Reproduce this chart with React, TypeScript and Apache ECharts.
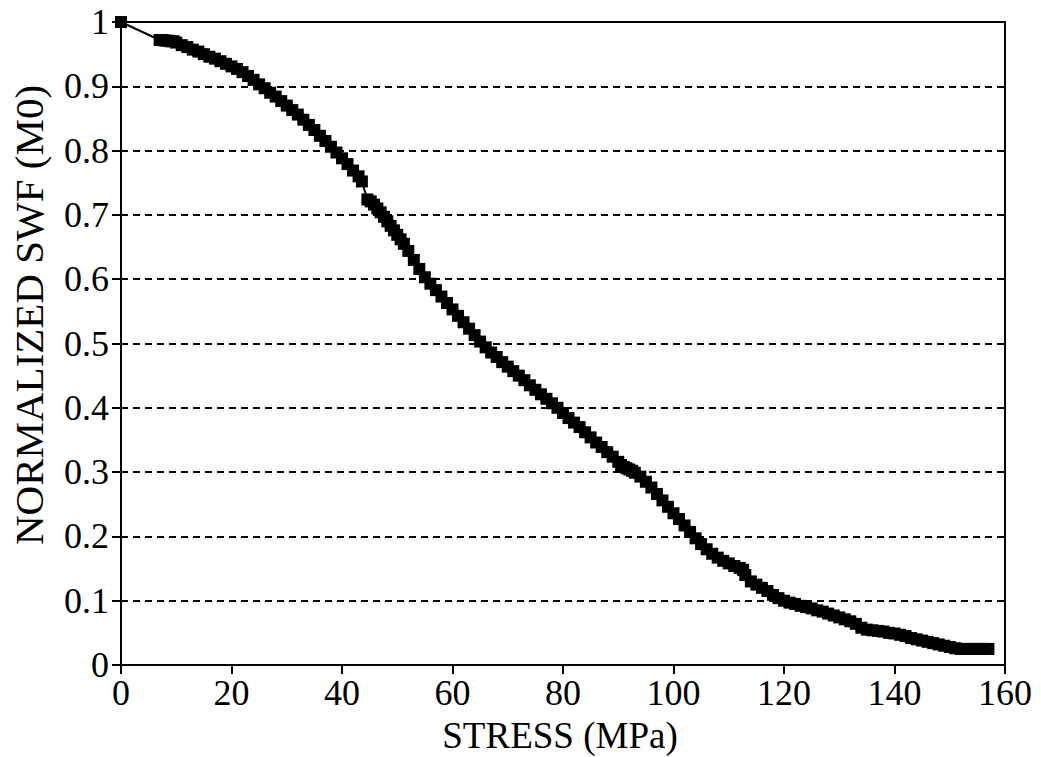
import React, { useEffect, useRef } from "react";
import * as echarts from "echarts";

const stress = [
  0, 7, 7.5, 8, 8.5, 9, 9.5, 10, 11, 12, 13, 14, 15, 16, 17, 18, 19, 20, 21, 22, 23, 24, 25,
  26, 27, 28, 29, 30, 31, 32, 33, 34, 35, 36, 37, 38, 39, 40, 41, 42, 43, 43.6,
  44.6, 45.2, 45.8, 46.4, 47, 47.6, 48.2, 48.8, 49.4, 50, 50.6, 51.2, 52, 53, 54, 55, 56, 57,
  58, 59, 60, 61, 62, 63, 64, 65, 66, 67, 68, 69, 70, 71, 72, 73, 74, 75, 76, 77, 78, 79,
  80, 81, 82, 83, 84, 85, 86, 87, 88, 89, 90, 90.5, 91, 91.5, 92, 92.5, 93, 94, 95, 96, 97,
  98, 99, 100, 101, 102, 103, 104, 105, 106, 107, 108, 109, 110, 111, 112, 112.6, 113, 114,
  115, 116, 117, 118, 119, 120, 121, 122, 123, 124, 125, 126, 127, 128, 129, 130, 131, 132,
  133, 134, 135, 136, 137, 138, 139, 140, 141, 142, 143, 144, 145, 146, 147, 148, 149, 150,
  151, 152, 153, 154, 155, 156, 157,
];

const swf = [
  1.0, 0.972, 0.972, 0.971, 0.971, 0.97, 0.97, 0.968, 0.964, 0.961, 0.957, 0.954, 0.95, 0.946,
  0.943, 0.939, 0.935, 0.931, 0.927, 0.922, 0.916, 0.91, 0.903, 0.897, 0.89, 0.884, 0.877,
  0.87, 0.863, 0.856, 0.848, 0.84, 0.832, 0.823, 0.815, 0.806, 0.797, 0.788, 0.779, 0.769,
  0.76, 0.752, 0.724, 0.721, 0.716, 0.71, 0.704, 0.697, 0.69, 0.683, 0.676, 0.669, 0.662,
  0.655, 0.644, 0.63, 0.616, 0.603, 0.593, 0.583, 0.573, 0.563, 0.553, 0.543, 0.533, 0.523,
  0.513, 0.503, 0.494, 0.486, 0.479, 0.471, 0.464, 0.457, 0.45, 0.443, 0.435, 0.428, 0.421,
  0.414, 0.407, 0.4, 0.392, 0.384, 0.377, 0.37, 0.362, 0.354, 0.346, 0.339, 0.331, 0.324,
  0.316, 0.311, 0.308, 0.306, 0.304, 0.302, 0.299, 0.293, 0.285, 0.276, 0.266, 0.256, 0.246,
  0.236, 0.227, 0.217, 0.207, 0.197, 0.188, 0.18, 0.173, 0.167, 0.162, 0.158, 0.154, 0.151,
  0.148, 0.14, 0.13, 0.125, 0.12, 0.115, 0.109, 0.104, 0.1, 0.097, 0.095, 0.092, 0.09, 0.088,
  0.085, 0.083, 0.08, 0.077, 0.074, 0.071, 0.068, 0.064, 0.058, 0.055, 0.054, 0.053, 0.052,
  0.05, 0.049, 0.047, 0.045, 0.042, 0.04, 0.038, 0.036, 0.034, 0.032, 0.03, 0.028, 0.026,
  0.025, 0.025, 0.025, 0.025, 0.025, 0.025,
];

const xTitle = "STRESS (MPa)";
const yTitle = "NORMALIZED SWF (M0)";

const FONT = "Liberation Serif";

export default function App() {
  const ref = useRef<HTMLDivElement>(null);
  useEffect(() => {
    if (!ref.current) return;
    const chart = echarts.init(ref.current, null, { renderer: "svg" });
    const data = stress.map((s, i) => [s, swf[i]]);
    chart.setOption({
      animation: false,
      backgroundColor: "#ffffff",
      textStyle: { fontFamily: FONT },
      grid: {
        left: 121,
        top: 22,
        right: 36,
        bottom: 92,
        show: true,
        borderColor: "#000",
        borderWidth: 2,
        containLabel: false,
        outerBoundsMode: "none",
      },
      graphic: [
        {
          type: "text",
          x: 560,
          y: 735,
          style: {
            text: xTitle,
            font: `37px ${FONT}`,
            fill: "#000",
            textAlign: "center",
            textVerticalAlign: "middle",
          },
        },
        {
          type: "text",
          x: 29,
          y: 315,
          rotation: Math.PI / 2,
          style: {
            text: yTitle,
            font: `41px ${FONT}`,
            fill: "#000",
            textAlign: "center",
            textVerticalAlign: "middle",
          },
        },
      ],
      xAxis: {
        type: "value",
        min: 0,
        max: 160,
        interval: 20,
        axisLine: { show: true, onZero: false, lineStyle: { color: "#000", width: 2 } },
        axisTick: { show: true, inside: false, length: 9, lineStyle: { color: "#000", width: 2 } },
        axisLabel: { fontFamily: FONT, fontSize: 36, color: "#000", margin: 10 },
        splitLine: { show: false },
      },
      yAxis: {
        type: "value",
        min: 0,
        max: 1,
        interval: 0.1,
        axisLine: { show: true, onZero: false, lineStyle: { color: "#000", width: 2 } },
        axisTick: { show: true, inside: false, length: 9, lineStyle: { color: "#000", width: 2 } },
        axisLabel: {
          fontFamily: FONT,
          fontSize: 36,
          color: "#000",
          margin: 12,
          formatter: (v: number) => {
            const r = Math.round(v * 10) / 10;
            return r === 0 || r === 1 ? String(r) : r.toFixed(1);
          },
        },
        splitLine: {
          show: true,
          lineStyle: { color: "#000", width: 2, type: [7, 5] },
        },
      },
      series: [
        {
          type: "line",
          data,
          symbol: "rect",
          symbolSize: 12,
          showAllSymbol: true,
          itemStyle: { color: "#000" },
          lineStyle: { color: "#000", width: 2 },
          z: 5,
        },
      ],
    });
    return () => chart.dispose();
  }, []);
  return (
    <div
      ref={ref}
      style={{ position: "absolute", left: 0, top: 0, width: 1041, height: 757 }}
    />
  );
}
